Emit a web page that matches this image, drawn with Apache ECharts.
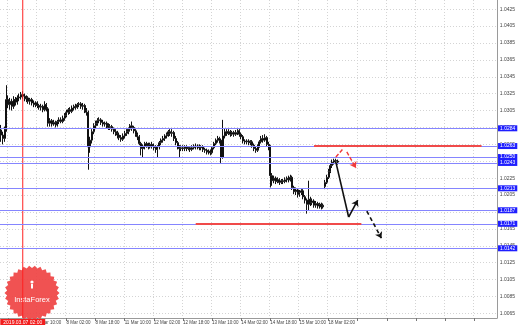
<!DOCTYPE html>
<html><head><meta charset="utf-8">
<script src="https://cdn.jsdelivr.net/npm/echarts@6/dist/echarts.min.js"></script>
<style>html,body{margin:0;padding:0;background:#fff}#c{width:518px;height:325px}</style>
</head><body><div id="c"></div>
<script>
// ---------- DATA ----------
const tickLabels = ['6 Mar 18:00','7 Mar 10:00','8 Mar 02:00','8 Mar 18:00','11 Mar 10:00','12 Mar 02:00','12 Mar 18:00','13 Mar 10:00','14 Mar 02:00','14 Mar 18:00','15 Mar 10:00','18 Mar 02:00'];
// [open, close, low, high] hourly candles
const candles = [
[1.0282,1.0276,1.0268,1.0288],[1.0276,1.0272,1.0265,1.0280],[1.0272,1.0283,1.0268,1.0286],[1.0283,1.0318,1.0280,1.0335],
[1.0318,1.0312,1.0308,1.0323],[1.0312,1.0316,1.0306,1.0320],[1.0316,1.0310,1.0305,1.0319],[1.0310,1.0318,1.0307,1.0322],
[1.0318,1.0315,1.0311,1.0321],[1.0315,1.0320,1.0312,1.0323],[1.0320,1.0321,1.0316,1.0325],[1.0321,1.0324,1.0318,1.0327],
[1.0324,1.0322,1.0319,1.0328],[1.0322,1.0319,1.0316,1.0325],[1.0319,1.0320,1.0315,1.0323],[1.0320,1.0316,1.0313,1.0322],
[1.0316,1.0318,1.0312,1.0320],[1.0318,1.0314,1.0311,1.0320],[1.0314,1.0312,1.0309,1.0317],[1.0312,1.0314,1.0309,1.0316],
[1.0314,1.0311,1.0308,1.0316],[1.0311,1.0309,1.0306,1.0313],[1.0309,1.0310,1.0305,1.0313],[1.0310,1.0306,1.0303,1.0312],
[1.0306,1.0312,1.0304,1.0316],[1.0312,1.0307,1.0304,1.0314],[1.0307,1.0290,1.0286,1.0309],[1.0290,1.0293,1.0286,1.0296],
[1.0293,1.0289,1.0286,1.0295],[1.0289,1.0291,1.0287,1.0294],[1.0291,1.0288,1.0285,1.0293],[1.0288,1.0292,1.0286,1.0294],
[1.0292,1.0294,1.0289,1.0297],[1.0294,1.0292,1.0290,1.0297],[1.0292,1.0296,1.0290,1.0299],[1.0296,1.0299,1.0293,1.0302],
[1.0299,1.0303,1.0297,1.0306],[1.0303,1.0306,1.0300,1.0308],[1.0306,1.0304,1.0301,1.0309],[1.0304,1.0308,1.0302,1.0311],
[1.0308,1.0310,1.0305,1.0312],[1.0310,1.0309,1.0306,1.0313],[1.0309,1.0312,1.0307,1.0314],[1.0312,1.0313,1.0309,1.0315],
[1.0313,1.0310,1.0307,1.0315],[1.0310,1.0311,1.0306,1.0314],[1.0311,1.0305,1.0302,1.0313],[1.0305,1.0303,1.0299,1.0308],
[1.0303,1.0262,1.0235,1.0305],[1.0262,1.0270,1.0255,1.0274],[1.0270,1.0280,1.0266,1.0283],[1.0280,1.0287,1.0277,1.0290],
[1.0287,1.0290,1.0283,1.0293],[1.0290,1.0293,1.0287,1.0296],[1.0293,1.0294,1.0290,1.0297],[1.0294,1.0291,1.0288,1.0296],
[1.0291,1.0289,1.0286,1.0294],[1.0289,1.0290,1.0286,1.0292],[1.0290,1.0287,1.0284,1.0292],[1.0287,1.0285,1.0282,1.0290],
[1.0285,1.0286,1.0282,1.0289],[1.0286,1.0283,1.0280,1.0288],[1.0283,1.0280,1.0277,1.0285],[1.0280,1.0278,1.0275,1.0283],
[1.0278,1.0276,1.0272,1.0281],[1.0276,1.0273,1.0270,1.0279],[1.0273,1.0271,1.0268,1.0276],[1.0271,1.0275,1.0269,1.0278],
[1.0275,1.0278,1.0272,1.0281],[1.0278,1.0280,1.0275,1.0283],[1.0280,1.0283,1.0277,1.0285],[1.0283,1.0287,1.0280,1.0289],
[1.0287,1.0285,1.0281,1.0292],[1.0285,1.0281,1.0278,1.0287],[1.0281,1.0277,1.0274,1.0283],[1.0277,1.0274,1.0270,1.0279],
[1.0274,1.0266,1.0264,1.0276],[1.0266,1.0260,1.0252,1.0268],[1.0260,1.0263,1.0250,1.0265],[1.0263,1.0266,1.0259,1.0268],
[1.0266,1.0264,1.0261,1.0268],[1.0264,1.0262,1.0259,1.0267],[1.0262,1.0265,1.0260,1.0267],[1.0265,1.0263,1.0260,1.0268],
[1.0263,1.0261,1.0258,1.0266],[1.0261,1.0259,1.0255,1.0264],[1.0259,1.0262,1.0249,1.0264],[1.0262,1.0267,1.0259,1.0269],
[1.0267,1.0270,1.0264,1.0272],[1.0270,1.0272,1.0267,1.0275],[1.0272,1.0275,1.0269,1.0277],[1.0275,1.0277,1.0272,1.0279],
[1.0277,1.0280,1.0274,1.0282],[1.0280,1.0278,1.0275,1.0283],[1.0278,1.0279,1.0274,1.0283],[1.0279,1.0272,1.0269,1.0281],
[1.0272,1.0267,1.0264,1.0275],[1.0267,1.0262,1.0259,1.0269],[1.0262,1.0260,1.0250,1.0264],[1.0260,1.0261,1.0257,1.0264],
[1.0261,1.0260,1.0257,1.0264],[1.0260,1.0262,1.0257,1.0264],[1.0262,1.0260,1.0257,1.0264],[1.0260,1.0261,1.0258,1.0263],
[1.0261,1.0259,1.0256,1.0263],[1.0259,1.0261,1.0257,1.0264],[1.0261,1.0263,1.0259,1.0265],[1.0263,1.0262,1.0259,1.0266],
[1.0262,1.0263,1.0259,1.0265],[1.0263,1.0261,1.0258,1.0265],[1.0261,1.0262,1.0258,1.0264],[1.0262,1.0259,1.0256,1.0264],
[1.0259,1.0258,1.0255,1.0261],[1.0258,1.0256,1.0253,1.0260],[1.0256,1.0257,1.0253,1.0259],[1.0257,1.0255,1.0252,1.0259],
[1.0255,1.0261,1.0253,1.0263],[1.0261,1.0266,1.0259,1.0268],[1.0266,1.0270,1.0264,1.0272],[1.0270,1.0272,1.0267,1.0275],
[1.0272,1.0270,1.0266,1.0274],[1.0270,1.0250,1.0243,1.0272],[1.0250,1.0275,1.0248,1.0294],[1.0275,1.0280,1.0272,1.0284],
[1.0280,1.0278,1.0275,1.0283],[1.0278,1.0280,1.0276,1.0283],[1.0280,1.0277,1.0274,1.0282],[1.0277,1.0279,1.0275,1.0281],
[1.0279,1.0277,1.0274,1.0281],[1.0277,1.0279,1.0275,1.0282],[1.0279,1.0281,1.0276,1.0283],[1.0281,1.0277,1.0274,1.0283],
[1.0277,1.0274,1.0271,1.0279],[1.0274,1.0269,1.0266,1.0276],[1.0269,1.0268,1.0265,1.0271],[1.0268,1.0269,1.0265,1.0271],
[1.0269,1.0267,1.0264,1.0271],[1.0267,1.0268,1.0264,1.0270],[1.0268,1.0264,1.0261,1.0270],[1.0264,1.0260,1.0257,1.0266],
[1.0260,1.0258,1.0255,1.0262],[1.0258,1.0263,1.0256,1.0265],[1.0263,1.0268,1.0261,1.0270],[1.0268,1.0272,1.0266,1.0275],
[1.0272,1.0270,1.0267,1.0276],[1.0270,1.0273,1.0268,1.0277],[1.0273,1.0265,1.0262,1.0275],[1.0265,1.0262,1.0258,1.0268],
[1.0262,1.0228,1.0214,1.0264],[1.0228,1.0222,1.0216,1.0231],[1.0222,1.0225,1.0219,1.0228],[1.0225,1.0221,1.0218,1.0227],
[1.0221,1.0223,1.0219,1.0226],[1.0223,1.0220,1.0217,1.0225],[1.0220,1.0222,1.0218,1.0224],[1.0222,1.0221,1.0218,1.0224],
[1.0221,1.0223,1.0219,1.0226],[1.0223,1.0225,1.0220,1.0227],[1.0225,1.0223,1.0220,1.0228],[1.0223,1.0226,1.0221,1.0229],
[1.0226,1.0214,1.0211,1.0228],[1.0214,1.0209,1.0206,1.0216],[1.0209,1.0211,1.0205,1.0214],[1.0211,1.0206,1.0202,1.0213],
[1.0206,1.0208,1.0203,1.0211],[1.0208,1.0210,1.0205,1.0212],[1.0210,1.0203,1.0200,1.0212],[1.0203,1.0199,1.0195,1.0205],
[1.0199,1.0194,1.0183,1.0201],[1.0194,1.0200,1.0187,1.0222],[1.0200,1.0196,1.0192,1.0203],[1.0196,1.0198,1.0193,1.0201],
[1.0198,1.0193,1.0190,1.0200],[1.0193,1.0195,1.0190,1.0198],[1.0195,1.0192,1.0189,1.0197],[1.0192,1.0194,1.0189,1.0196],
[1.0194,1.0191,1.0188,1.0196],[1.0191,1.0193,1.0189,1.0195],[1.0215,1.0220,1.0212,1.0223],[1.0220,1.0226,1.0218,1.0229],
[1.0226,1.0233,1.0224,1.0236],[1.0233,1.0240,1.0231,1.0243],[1.0240,1.0244,1.0237,1.0247],[1.0244,1.0246,1.0241,1.0248],
[1.0246,1.0245,1.0242,1.0248],[1.0245,1.0244,1.0241,1.0247]
];
const blueLevels = [1.0284, 1.0263, 1.0250, 1.0243, 1.0213, 1.0187, 1.0171, 1.0142];
// [fromIndex, toIndex, price]
const redZones = [[107, 198, 1.0171], [172, 264, 1.0263]];
// forecast arrows, points as [categoryIndex, price]
const blackArrow = [[184.2, 1.0244], [191.3, 1.0179], [195.7, 1.0199]];
const blackDash = [[201.1, 1.0186], [209.3, 1.0154]];
const redDashUp = [[184.2, 1.0250], [188.0, 1.0260]];
const redDashDown = [[190.2, 1.0256], [194.6, 1.0237]];
const priceTicks = { min: 1.0065, max: 1.0425, step: 0.002 };
const viewMin = 1.005951, viewMax = 1.043584;
const markerIndex = 12;
const markerLabel = '2019.03.07 02:00';

// ---------- CATEGORIES (hourly, weekends skipped) ----------
const N = 273;
const months = ['Jan','Feb','Mar','Apr','May','Jun','Jul','Aug','Sep','Oct','Nov','Dec'];
const categories = [];
let t = Date.UTC(2019, 2, 6, 14);
while (categories.length < N) {
  const d = new Date(t), wd = d.getUTCDay();
  if (wd !== 0 && wd !== 6) categories.push(d.getUTCDate() + ' ' + months[d.getUTCMonth()] + ' ' + String(d.getUTCHours()).padStart(2, '0') + ':00');
  t += 3600000;
}
const tickFn = (i) => i >= 4 && (i - 4) % 16 === 0;
const FONT = 'Liberation Sans';

function segs(pts, arrow) {
  const out = [];
  for (let k = 0; k < pts.length - 1; k++) {
    out.push([{ coord: pts[k], symbol: 'none' },
              { coord: pts[k + 1], symbol: (arrow && k === pts.length - 2) ? 'arrow' : 'none', symbolSize: 6 }]);
  }
  return out;
}
function markSeries(name, data, lineStyle) {
  return { name, type: 'line', data: [], xAxisIndex: 0, yAxisIndex: 0, silent: true,
    markLine: { silent: true, animation: false, symbol: 'none', label: { show: false }, lineStyle, data } };
}

const levelItems = blueLevels.map(v => ({
  yAxis: v,
  lineStyle: { color: '#8585ff', width: 1, type: 'solid' },
  label: { show: true, position: 'end', distance: 1, fontSize: 5, color: '#fff', backgroundColor: '#1f1fff',
    padding: [1, 2, 0, 2], fontFamily: FONT, formatter: v.toFixed(4) }
}));

// logo decoration
const cx = 32, cy = 293, teeth = 30;
const seal = [];
for (let k = 0; k < teeth * 2; k++) { const r = k % 2 ? 25 : 27.5; const a = Math.PI * k / teeth; seal.push([cx + r * Math.cos(a), cy + r * Math.sin(a)]); }

const chart = echarts.init(document.getElementById('c'), null, { renderer: 'canvas' });
chart.setOption({
  animation: false,
  backgroundColor: '#ffffff',
  textStyle: { fontFamily: FONT },
  grid: [
    { left: 0, right: 21, top: 0, height: 318 },
    { left: 0, right: 21, top: 9.2, height: 304.2 }
  ],
  xAxis: [
    { type: 'category', gridIndex: 0, data: categories, boundaryGap: true,
      axisLine: { lineStyle: { color: '#9a9a9a', width: 1 } },
      axisTick: { show: true, length: 3, interval: tickFn, alignWithLabel: true, lineStyle: { color: '#777' } },
      axisLabel: { interval: tickFn, fontSize: 4.5, color: '#444', align: 'left', margin: 2, fontFamily: FONT,
        formatter: (v) => tickLabels.includes(v) ? v : '' },
      splitLine: { show: true, interval: tickFn, lineStyle: { color: '#d4d4d4', type: [1, 2], width: 1 } } },
    { type: 'value', gridIndex: 1, show: false, min: 0, max: 1 }
  ],
  yAxis: [
    { type: 'value', gridIndex: 0, position: 'right', min: viewMin, max: viewMax,
      axisLine: { show: true, lineStyle: { color: '#9a9a9a', width: 1 } },
      axisTick: { show: false }, axisLabel: { show: false }, splitLine: { show: false } },
    { type: 'value', gridIndex: 1, position: 'right', min: priceTicks.min, max: priceTicks.max, interval: priceTicks.step,
      axisLine: { show: false }, axisTick: { show: false },
      axisLabel: { fontSize: 5, color: '#444', margin: 3, fontFamily: FONT, formatter: (v) => v.toFixed(4) },
      splitLine: { show: true, lineStyle: { color: '#d4d4d4', type: [1, 2], width: 1 } } }
  ],
  graphic: [
    { type: 'polygon', shape: { points: seal }, style: { fill: '#ef4343', opacity: 0.92 }, z: 1 },
    { type: 'circle', shape: { cx: cx, cy: cy - 11, r: 1.6 }, style: { fill: '#fff' }, z: 2 },
    { type: 'rect', shape: { x: cx - 1, y: cy - 9, width: 2, height: 4.5 }, style: { fill: '#fff' }, z: 2 },
    { type: 'text', x: cx, y: cy + 7, style: { text: 'InstaForex', fill: '#fff', fontSize: 7.5, fontFamily: FONT, align: 'center', verticalAlign: 'middle' }, z: 2 }
  ],
  series: [
    { name: 'price', type: 'candlestick', xAxisIndex: 0, yAxisIndex: 0, data: candles, barWidth: 1.5, z: 3,
      itemStyle: { color: '#ffffff', color0: '#111111', borderColor: '#111111', borderColor0: '#111111', borderWidth: 1 },
      markLine: { silent: true, animation: false, symbol: 'none', precision: 4, data: levelItems } },
    { name: 'marker', type: 'line', xAxisIndex: 0, yAxisIndex: 0, silent: true, clip: false, z: 4,
      showSymbol: true, symbol: 'circle', symbolSize: 0.01,
      lineStyle: { color: '#ff2020', width: 1 }, itemStyle: { color: '#ff2020' },
      data: [
        { value: [markerIndex, viewMin], label: { show: true, position: 'bottom', distance: 1, formatter: markerLabel, fontSize: 5,
          color: '#fff', backgroundColor: '#f21d1d', padding: [1, 3, 0, 3], fontFamily: FONT } },
        { value: [markerIndex, viewMax] }
      ] },
    markSeries('redZones', redZones.map(z => [{ coord: [z[0], z[2]] }, { coord: [z[1], z[2]] }]), { color: '#f04a4a', width: 2, type: 'solid' }),
    markSeries('blackArrow', segs(blackArrow, true), { color: '#111', width: 1.6, type: 'solid' }),
    markSeries('blackDash', segs(blackDash, true), { color: '#111', width: 1.6, type: [4, 3] }),
    markSeries('redDashUp', segs(redDashUp, false), { color: '#f03a3a', width: 1.4, type: [4, 2] }),
    markSeries('redDashDown', segs(redDashDown, true), { color: '#f03a3a', width: 1.4, type: [4, 2] })
  ]
});
</script></body></html>
